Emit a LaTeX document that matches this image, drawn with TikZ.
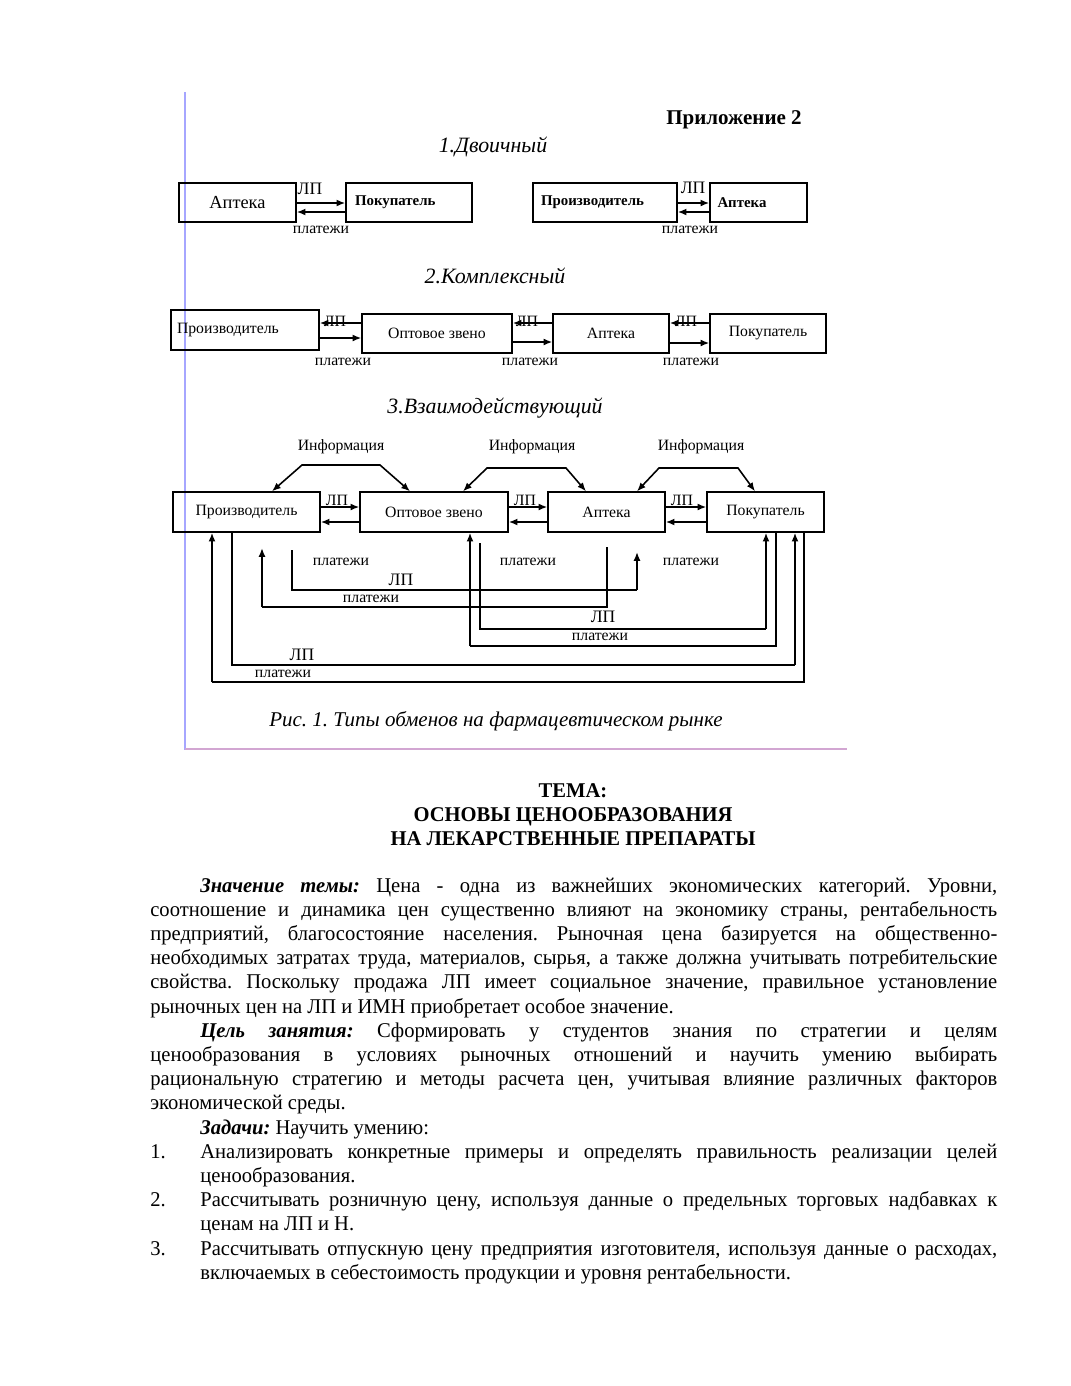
\documentclass[tikz,border=0pt]{standalone}
\usepackage{fontspec}
\setmainfont{Liberation Serif}
\newfontfamily\bodyfont[FakeStretch=0.98]{Liberation Serif}
\usepackage{tikz}
\usetikzlibrary{arrows.meta}
\newlength\px
\setlength\px{0.5714pt}
\frenchspacing

\begin{document}
\begin{tikzpicture}[x=0.5714pt,y=-0.5714pt,>={Latex[length=5pt,width=4pt]},line cap=butt,
  box/.style={draw,line width=0.8pt,inner sep=0pt,minimum height=39\px},
  lab/.style={inner sep=0pt,font=\fontsize{9}{10}\selectfont},
  flowthin/.style={line width=0.9pt},
  flowthick/.style={line width=1.6pt,->},
  infoarr/.style={line width=0.9pt,<->},
  ttl/.style={inner sep=0pt,font=\fontsize{12.5}{14}\itshape}]
\useasboundingbox (0,0) rectangle (1071,1386);
\fill[white] (0,0) rectangle (1071,1386);
\draw[blue!35!white,line width=0.8pt] (185,92) -- (185,750);
\draw[violet!35!white,line width=0.8pt] (185,749) -- (847,749);
\node[inner sep=0pt,font=\fontsize{12}{14}\bfseries] (app) at (734,120) {Приложение 2};
\node[ttl] (t1) at (493,147) {1.Двоичный};
\node[box,minimum width=117\px,font=\fontsize{10.5}{12}\selectfont] (apt1) at (237.5,202.5) {Аптека};
\node[box,minimum width=126\px,text width=108\px,align=left,font=\fontsize{8.5}{10}\bfseries] (pok1) at (409,202.5) {Покупатель};
\node[box,minimum width=144\px,text width=128\px,align=left,font=\fontsize{8.5}{10}\bfseries] (pro1) at (605,202.5) {Производитель};
\node[box,minimum width=97\px,text width=82\px,align=left,font=\fontsize{8.5}{10}\bfseries] (apt1b) at (758.5,202.5) {Аптека};
\draw[flowthick] (apt1.east |- 0,203) -- (pok1.west |- 0,203);
\draw[flowthick] (pok1.west |- 0,212) -- (apt1.east |- 0,212);
\draw[flowthick] (pro1.east |- 0,203) -- (apt1b.west |- 0,203);
\draw[flowthick] (apt1b.west |- 0,212) -- (pro1.east |- 0,212);
\node[lab,font=\fontsize{10}{11}\selectfont] (lp1) at (310,189) {ЛП};
\node[lab] (pl1) at (321,230) {платежи};
\node[lab,font=\fontsize{10}{11}\selectfont] (lp2) at (693,188) {ЛП};
\node[lab] (pl2) at (690,230) {платежи};
\node[ttl] (t2) at (495,276) {2.Комплексный};
\node[box,minimum width=148\px,minimum height=40\px,text width=136\px,align=left,font=\fontsize{9}{10}\selectfont] (prod2) at (245,330) {Производитель\\[6\px]};
\node[box,minimum width=150\px,font=\fontsize{9}{10}\selectfont] (opt2) at (437,333.5) {Оптовое звено};
\node[box,minimum width=116\px,font=\fontsize{9}{10}\selectfont] (apt2) at (611,333.5) {Аптека};
\node[box,minimum width=116\px,font=\fontsize{9}{10}\selectfont] (pok2) at (768,333.5) {Покупатель};
\draw[flowthick] (opt2.west |- 0,323) -- (prod2.east |- 0,323);
\draw[flowthick] (apt2.west |- 0,323) -- (opt2.east |- 0,323);
\draw[flowthick] (pok2.west |- 0,323) -- (apt2.east |- 0,323);
\draw[flowthin,->] (prod2.east |- 0,338) -- (opt2.west |- 0,338);
\draw[flowthin,->] (opt2.east |- 0,342) -- (apt2.west |- 0,342);
\draw[flowthin,->] (apt2.east |- 0,343) -- (pok2.west |- 0,343);
\node[lab] (lp3) at (335,321) {ЛП};
\node[lab] (lp4) at (527,321) {ЛП};
\node[lab] (lp5) at (686,321) {ЛП};
\node[lab] (pl3) at (343,362) {платежи};
\node[lab] (pl4) at (530,362) {платежи};
\node[lab] (pl5) at (691,362) {платежи};
\node[ttl] (t3) at (495,408) {3.Взаимодействующий};
\node[box,minimum width=147\px,minimum height=40\px,font=\fontsize{9}{10}\selectfont] (prod3) at (246.5,512) {Производитель};
\node[box,minimum width=148\px,minimum height=40\px,font=\fontsize{9}{10}\selectfont] (opt3) at (434,512) {Оптовое звено};
\node[box,minimum width=117\px,minimum height=40\px,font=\fontsize{9}{10}\selectfont] (apt3) at (606.5,512) {Аптека};
\node[box,minimum width=117\px,minimum height=40\px,font=\fontsize{9}{10}\selectfont] (pok3) at (765.5,512) {Покупатель};
\draw[flowthin,->] (prod3.east |- 0,507) -- (opt3.west |- 0,507);
\draw[flowthin,->] (opt3.east |- 0,507) -- (apt3.west |- 0,507);
\draw[flowthin,->] (apt3.east |- 0,507) -- (pok3.west |- 0,507);
\draw[flowthick] (opt3.west |- 0,522) -- (prod3.east |- 0,522);
\draw[flowthick] (apt3.west |- 0,522) -- (opt3.east |- 0,522);
\draw[flowthick] (pok3.west |- 0,522) -- (apt3.east |- 0,522);
\node[lab] (lp6) at (337,500) {ЛП};
\node[lab] (lp7) at (525,500) {ЛП};
\node[lab] (lp8) at (682,500) {ЛП};
\node[lab] (inf1) at (341,447) {Информация};
\node[lab] (inf2) at (532,447) {Информация};
\node[lab] (inf3) at (701,447) {Информация};
\draw[infoarr] (prod3.north -| 272,0) -- (302,465) -- (380,465) -- (opt3.north -| 410,0);
\draw[infoarr] (opt3.north -| 463,0) -- (487,468) -- (566,468) -- (apt3.north -| 586,0);
\draw[infoarr] (apt3.north -| 637,0) -- (659,468) -- (738,468) -- (pok3.north -| 755,0);
\coordinate (ca) at (212,682);
\coordinate (cb) at (795,665);
\coordinate (cc) at (470,646);
\coordinate (cd) at (766,629);
\coordinate (ce) at (262,607);
\coordinate (cf) at (637,590);
\draw[flowthin] (pok3.south -| 804,0) |- (ca);
\draw[flowthick] (ca) -- (prod3.south -| ca);
\draw[flowthin] (prod3.south -| 232,0) |- (cb);
\draw[flowthick] (cb) -- (pok3.south -| cb);
\draw[flowthin] (pok3.south -| 776,0) |- (cc);
\draw[flowthick] (cc) -- (opt3.south -| cc);
\draw[flowthin] (480,543) |- (cd);
\draw[flowthick] (cd) -- (pok3.south -| cd);
\draw[flowthin] (607,547) |- (ce);
\draw[flowthick] (ce) -- (262,548);
\draw[flowthin] (292,550) |- (cf);
\draw[flowthick] (cf) -- (637,552);
\node[lab] (pl6) at (341,562) {платежи};
\node[lab] (pl7) at (528,562) {платежи};
\node[lab] (pl8) at (691,562) {платежи};
\node[lab,font=\fontsize{10}{11}\selectfont] (lp9) at (401,580) {ЛП};
\node[lab] (pl9) at (371,599) {платежи};
\node[lab,font=\fontsize{10}{11}\selectfont] (lp10) at (603,617) {ЛП};
\node[lab] (pl10) at (600,637) {платежи};
\node[lab,font=\fontsize{10}{11}\selectfont] (lp11) at (302,655) {ЛП};
\node[lab] (pl11) at (283,674) {платежи};
\node[inner sep=0pt,font=\fontsize{12}{14}\itshape] (cap) at (496,721) {Рис. 1. Типы обменов на фармацевтическом рынке};
\node[inner sep=0pt,anchor=base,font=\bodyfont\fontsize{12}{14}\bfseries] (tema) at (573,797) {ТЕМА:};
\node[inner sep=0pt,anchor=base,font=\bodyfont\fontsize{12}{14}\bfseries] (tema2) at (573,821) {ОСНОВЫ ЦЕНООБРАЗОВАНИЯ};
\node[inner sep=0pt,anchor=base,font=\bodyfont\fontsize{12}{14}\bfseries] (tema3) at (573,845) {НА ЛЕКАРСТВЕННЫЕ ПРЕПАРАТЫ};
\node[inner sep=0pt,anchor=base west,text width=847\px,align=justify,font=\bodyfont\fontsize{12}{13.83}\selectfont] (body) at (150,892) {%
\frenchspacing\rightskip=0pt\parfillskip=0pt plus 1fil
\hspace*{50\px}\textbf{\textit{Значение темы:}} Цена - одна из важнейших экономических категорий. Уровни,\linebreak
соотношение и динамика цен существенно влияют на экономику страны, рентабельность\linebreak
предприятий, благосостояние населения. Рыночная цена базируется на общественно-\linebreak
необходимых затратах труда, материалов, сырья, а также должна учитывать потребительские\linebreak
свойства. Поскольку продажа ЛП имеет социальное значение, правильное установление\linebreak
рыночных цен на ЛП и ИМН приобретает особое значение.\par
\hspace*{50\px}\textbf{\textit{Цель занятия:}} Сформировать у студентов знания по стратегии и целям\linebreak
ценообразования в условиях рыночных отношений и научить умению выбирать\linebreak
рациональную стратегию и методы расчета цен, учитывая влияние различных факторов\linebreak
экономической среды.\par
\hspace*{50\px}\textbf{\textit{Задачи:}} Научить умению:\par
\hangindent=50\px\hangafter=1\noindent\makebox[50\px][l]{1.}Анализировать конкретные примеры и определять правильность реализации целей\linebreak
ценообразования.\par
\hangindent=50\px\hangafter=1\noindent\makebox[50\px][l]{2.}Рассчитывать розничную цену, используя данные о предельных торговых надбавках к\linebreak
ценам на ЛП и Н.\par
\hangindent=50\px\hangafter=1\noindent\makebox[50\px][l]{3.}Рассчитывать отпускную цену предприятия изготовителя, используя данные о расходах,\linebreak
включаемых в себестоимость продукции и уровня рентабельности.\par};
\end{tikzpicture}
\end{document}
